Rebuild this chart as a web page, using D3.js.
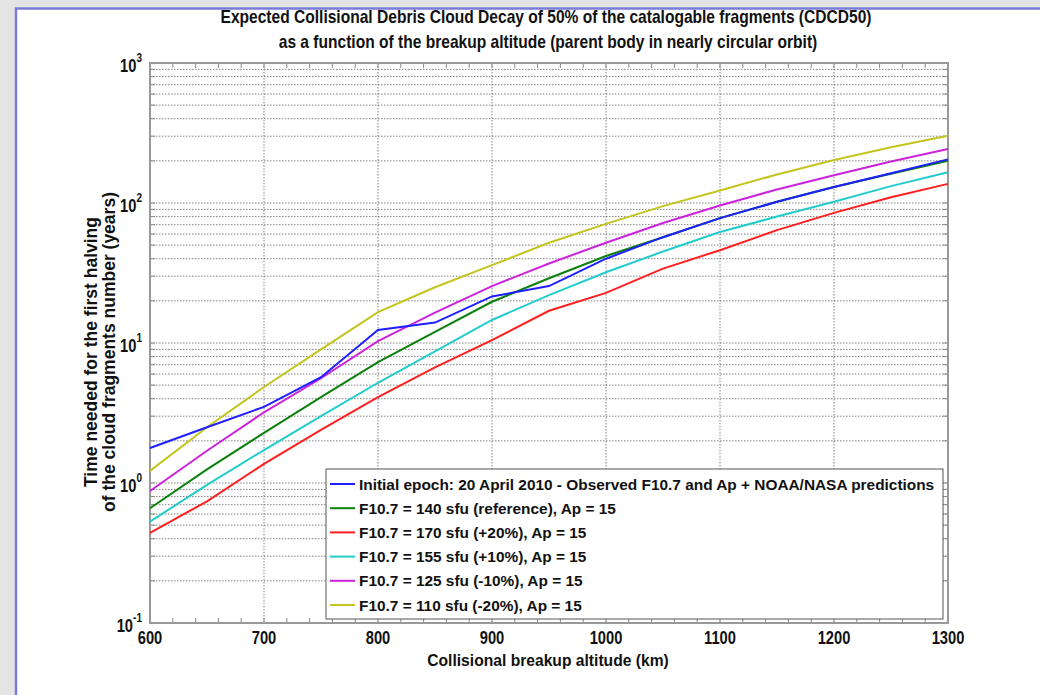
<!DOCTYPE html>
<html>
<head>
<meta charset="utf-8">
<script src="https://cdn.jsdelivr.net/npm/d3@7"></script>
<style>
  body { margin: 0; background: #e4e4e4; }
  svg { display: block; }
</style>
</head>
<body>
<svg id="drawing_region"></svg>
<script>
// altitudes (km)
const altitudes = [600, 650, 700, 750, 800, 850, 900, 950, 1000, 1050, 1100, 1150, 1200, 1250, 1300];

// years needed for first halving
const observed = [1.78, 2.5, 3.5, 5.7, 12.4, 14, 21.5, 25.5, 40, 57, 78, 102, 130, 163, 205];
const f140 = [0.66, 1.25, 2.28, 4.1, 7.3, 12, 19.7, 29, 41.8, 57, 78, 102, 130, 162, 200];
const f170 = [0.44, 0.74, 1.37, 2.4, 4.1, 6.7, 10.5, 17, 22.8, 34, 46, 64, 85, 110, 137];
const f155 = [0.53, 0.97, 1.72, 3.0, 5.2, 8.7, 14.6, 22, 32, 45, 62, 80, 102, 132, 166];
const f125 = [0.877, 1.7, 3.2, 5.6, 10.3, 16.5, 25.5, 37, 52, 72, 96, 125, 158, 198, 243];
const f110 = [1.22, 2.5, 4.85, 9, 16.6, 25, 36, 52, 71, 95, 123, 160, 203, 250, 302];

const seriesNames = [
  'Initial epoch: 20 April 2010 - Observed F10.7 and Ap + NOAA/NASA predictions',
  'F10.7 = 140 sfu (reference), Ap = 15',
  'F10.7 = 170 sfu (+20%), Ap = 15',
  'F10.7 = 155 sfu (+10%), Ap = 15',
  'F10.7 = 125 sfu (-10%), Ap = 15',
  'F10.7 = 110 sfu (-20%), Ap = 15'
];
const seriesValues = [observed, f140, f170, f155, f125, f110];
const seriesColors = ['#1f1fff', '#0c800c', '#ff1f1f', '#22cccc', '#cc22dd', '#c4c41e'];

const xTicks = [600, 700, 800, 900, 1000, 1100, 1200, 1300];
const yExponents = [-1, 0, 1, 2, 3];

const width = 1040, height = 695;
const margin = {top: 63, right: 92, bottom: 72, left: 150};
const inner_width = width - margin.left - margin.right;
const inner_height = height - margin.top - margin.bottom;

const svg = d3.select('#drawing_region')
  .attr('width', width)
  .attr('height', height);

// slide panel
svg.append('rect')
  .attr('x', 15).attr('y', 8)
  .attr('width', width).attr('height', height)
  .attr('fill', 'white');
svg.append('path')
  .attr('d', `M16,${height} V8.5 H${width}`)
  .attr('fill', 'none')
  .attr('stroke', '#7b7bd8')
  .attr('stroke-width', 2.5);

const font = '"Liberation Sans", Arial, sans-serif';

const xscale = d3.scaleLinear().domain([600, 1300]).range([0, inner_width]);
const yscale = d3.scaleLog().domain([0.1, 1000]).range([inner_height, 0]);

const chart = svg.append('g')
  .attr('transform', `translate(${margin.left}, ${margin.top})`);

// minor log values
const minorY = [];
yExponents.slice(0, -1).forEach(e => {
  for (let k = 2; k <= 9; k++) minorY.push(k * Math.pow(10, e));
});
const allY = yExponents.map(e => Math.pow(10, e)).concat(minorY);

// grid
chart.append('g').selectAll('line')
  .data(allY.filter(v => v > 0.1 && v < 1000))
  .join('line')
  .attr('x1', 0).attr('x2', inner_width)
  .attr('y1', d => yscale(d)).attr('y2', d => yscale(d))
  .attr('stroke', '#666')
  .attr('stroke-width', 1)
  .attr('stroke-dasharray', '1.5,1.5')
  .attr('opacity', 0.8);
chart.append('g').selectAll('line')
  .data(xTicks.slice(1, -1))
  .join('line')
  .attr('x1', d => xscale(d)).attr('x2', d => xscale(d))
  .attr('y1', 0).attr('y2', inner_height)
  .attr('stroke', '#666')
  .attr('stroke-width', 1)
  .attr('stroke-dasharray', '1.5,1.5')
  .attr('opacity', 0.8);

// minor ticks, inward, on all four sides
const minorX = d3.range(600, 1301, 20);
const tickColor = '#888';
const tl = 5;
chart.append('g').selectAll('line').data(minorX).join('line')
  .attr('x1', d => xscale(d)).attr('x2', d => xscale(d))
  .attr('y1', inner_height).attr('y2', inner_height - tl)
  .attr('stroke', tickColor);
chart.append('g').selectAll('line').data(minorX).join('line')
  .attr('x1', d => xscale(d)).attr('x2', d => xscale(d))
  .attr('y1', 0).attr('y2', tl)
  .attr('stroke', tickColor);
chart.append('g').selectAll('line').data(allY).join('line')
  .attr('x1', 0).attr('x2', tl)
  .attr('y1', d => yscale(d)).attr('y2', d => yscale(d))
  .attr('stroke', tickColor);
chart.append('g').selectAll('line').data(allY).join('line')
  .attr('x1', inner_width).attr('x2', inner_width - tl)
  .attr('y1', d => yscale(d)).attr('y2', d => yscale(d))
  .attr('stroke', tickColor);

// axis box
chart.append('rect')
  .attr('width', inner_width).attr('height', inner_height)
  .attr('fill', 'none')
  .attr('stroke', '#999')
  .attr('stroke-width', 2);

// x tick labels (narrow bold, like the original)
chart.append('g').selectAll('text').data(xTicks).join('text')
  .attr('transform', d => `translate(${xscale(d)}, ${inner_height + 21}) scale(0.84, 1)`)
  .attr('text-anchor', 'middle')
  .attr('font-family', font)
  .attr('font-weight', 'bold')
  .attr('font-size', 17.5)
  .attr('fill', '#111')
  .text(d => d);

// y tick labels 10^n
const ylab = chart.append('g').selectAll('text').data(yExponents).join('text')
  .attr('transform', d => `translate(-8, ${yscale(Math.pow(10, d)) + 9}) scale(0.84, 1)`)
  .attr('text-anchor', 'end')
  .attr('font-family', font)
  .attr('font-weight', 'bold')
  .attr('font-size', 17.5)
  .attr('fill', '#111');
ylab.append('tspan').text('10');
ylab.append('tspan')
  .attr('dy', -10)
  .attr('font-size', 12)
  .text(d => d);

// lines
const line = d3.line()
  .x((d, i) => xscale(altitudes[i]))
  .y(d => yscale(d));

const order = [1, 2, 3, 4, 5, 0];
chart.append('g').selectAll('path')
  .data(order)
  .join('path')
  .attr('d', i => line(seriesValues[i]))
  .attr('fill', 'none')
  .attr('stroke', i => seriesColors[i])
  .attr('stroke-width', 2);

// legend
const legendX = 326 - margin.left, legendY = 469 - margin.top;
const legendW = 617, rowH = 24.2;
const legend = chart.append('g')
  .attr('transform', `translate(${legendX}, ${legendY})`);
legend.append('rect')
  .attr('width', legendW)
  .attr('height', 150)
  .attr('fill', 'white')
  .attr('stroke', '#555')
  .attr('stroke-width', 1);
const rows = legend.selectAll('g.row').data(seriesNames).join('g')
  .attr('transform', (d, i) => `translate(0, ${15 + i * rowH})`);
rows.append('line')
  .attr('x1', 4).attr('x2', 29)
  .attr('stroke', (d, i) => seriesColors[i])
  .attr('stroke-width', 2);
rows.append('text')
  .attr('x', 33)
  .attr('y', 5.5)
  .attr('font-family', font)
  .attr('font-weight', 'bold')
  .attr('font-size', 15.4)
  .attr('fill', '#111')
  .text(d => d);

// titles
const title = svg.append('g')
  .attr('font-family', font)
  .attr('font-weight', 'bold')
  .attr('font-size', 17.5)
  .attr('fill', '#111')
  .attr('text-anchor', 'middle');
title.append('text')
  .attr('transform', 'translate(546, 23) scale(0.89, 1)')
  .text('Expected Collisional Debris Cloud Decay of 50% of the catalogable fragments (CDCD50)');
title.append('text')
  .attr('transform', 'translate(548, 48) scale(0.89, 1)')
  .text('as a function of the breakup altitude (parent body in nearly circular orbit)');

svg.append('text')
  .attr('transform', 'translate(548, 666) scale(0.92, 1)')
  .attr('text-anchor', 'middle')
  .attr('font-family', font)
  .attr('font-weight', 'bold')
  .attr('font-size', 17)
  .attr('fill', '#111')
  .text('Collisional breakup altitude (km)');

const ytitle = svg.append('text')
  .attr('transform', 'rotate(-90)')
  .attr('text-anchor', 'middle')
  .attr('font-family', font)
  .attr('font-weight', 'bold')
  .attr('font-size', 17.5)
  .attr('fill', '#111');
ytitle.append('tspan').attr('x', -352).attr('y', 97)
  .text('Time needed for the first halving');
ytitle.append('tspan').attr('x', -352).attr('y', 115)
  .text('of the cloud fragments number (years)');
</script>
</body>
</html>
